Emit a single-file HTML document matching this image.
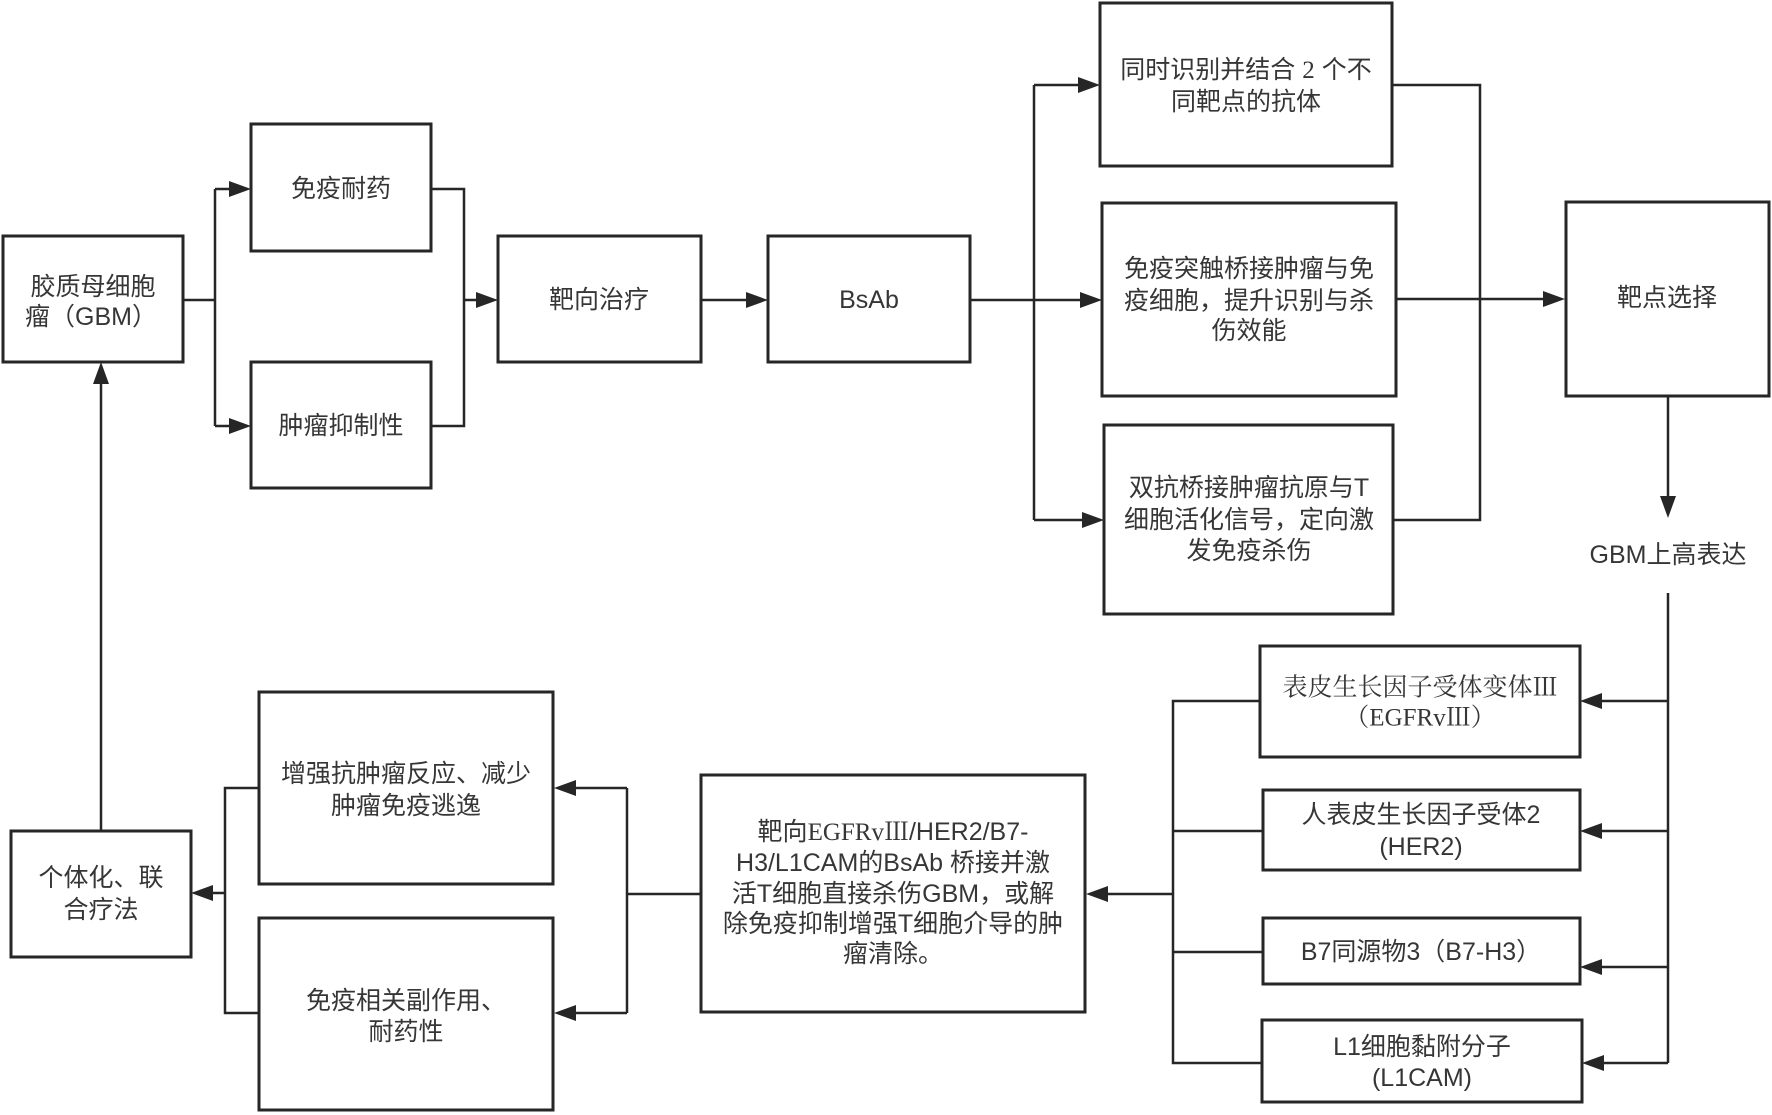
<!DOCTYPE html>
<html><head><meta charset="utf-8"><style>
html,body{margin:0;padding:0;background:#fff;}
svg{display:block;}
text{font-family:"Liberation Sans","Noto Sans CJK SC",sans-serif;font-size:25px;fill:#363636;text-anchor:middle;dominant-baseline:central;}
.serif{font-family:"Liberation Serif","Noto Serif CJK SC",serif;}
</style></head><body>
<svg width="1772" height="1115" viewBox="0 0 1772 1115" xmlns="http://www.w3.org/2000/svg">
<rect width="1772" height="1115" fill="#fff"/>
<g fill="none" stroke="#262626" stroke-width="3">
<rect x="3" y="236" width="180" height="126"/>
<rect x="251" y="124" width="180" height="127"/>
<rect x="251" y="362" width="180" height="126"/>
<rect x="498" y="236" width="203" height="126"/>
<rect x="768" y="236" width="202" height="126"/>
<rect x="1100" y="3" width="292" height="163"/>
<rect x="1102" y="203" width="294" height="193"/>
<rect x="1104" y="425" width="289" height="189"/>
<rect x="1566" y="202" width="203" height="194"/>
<rect x="1260" y="646" width="320" height="111"/>
<rect x="1263" y="790" width="317" height="80"/>
<rect x="1263" y="918" width="317" height="66"/>
<rect x="1262" y="1020" width="320" height="82"/>
<rect x="701" y="775" width="384" height="237"/>
<rect x="259" y="692" width="294" height="192"/>
<rect x="259" y="918" width="294" height="192"/>
<rect x="11" y="831" width="180" height="126"/>
</g>
<g fill="none" stroke="#262626" stroke-width="2.5">
<path d="M183 300 H215 M215 189 V426 M215 189 H232 M215 426 H232"/>
<path d="M431 189 H464 V426 H431 M464 300 H480"/>
<path d="M701 300 H750"/>
<path d="M970 300 H1084 M1034 85 V520 M1034 85 H1082 M1034 520 H1086"/>
<path d="M1392 85 H1480 V520 H1393 M1396 299 H1547"/>
<path d="M1668 396 V500"/>
<path d="M1668 593 V1063 M1668 701 H1598 M1668 831 H1598 M1668 967 H1598 M1668 1063 H1600"/>
<path d="M1260 701 H1173 V1063 H1262 M1263 831 H1173 M1263 952 H1173 M1173 894 H1105"/>
<path d="M701 894 H627 M627 788 V1013 M627 788 H573 M627 1013 H573"/>
<path d="M259 788 H225 V1013 H259 M225 893 H209"/>
<path d="M101 831 V380"/>
</g>
<g fill="#262626">
<polygon points="251,189 229,181 229,197"/>
<polygon points="251,426 229,418 229,434"/>
<polygon points="498,300 476,292 476,308"/>
<polygon points="768,300 746,292 746,308"/>
<polygon points="1100,85 1078,77 1078,93"/>
<polygon points="1102,300 1080,292 1080,308"/>
<polygon points="1104,520 1082,512 1082,528"/>
<polygon points="1565,299 1543,291 1543,307"/>
<polygon points="1668,518 1660,496 1676,496"/>
<polygon points="1580,701 1602,693 1602,709"/>
<polygon points="1580,831 1602,823 1602,839"/>
<polygon points="1580,967 1602,959 1602,975"/>
<polygon points="1582,1063 1604,1055 1604,1071"/>
<polygon points="1086,894 1108,886 1108,902"/>
<polygon points="554,788 576,780 576,796"/>
<polygon points="554,1013 576,1005 576,1021"/>
<polygon points="191,893 213,885 213,901"/>
<polygon points="101,362 93,384 109,384"/>
</g>
<g>
<text x="93" y="287">胶质母细胞</text>
<text x="91" y="317">瘤（GBM）</text>
<text x="341" y="189">免疫耐药</text>
<text x="341" y="426">肿瘤抑制性</text>
<text x="599" y="300">靶向治疗</text>
<text x="869" y="300">BsAb</text>
<text x="1246" y="70">同时识别并结合 <tspan class="serif">2</tspan> 个不</text>
<text x="1246" y="102">同靶点的抗体</text>
<text x="1249" y="269">免疫突触桥接肿瘤与免</text>
<text x="1249" y="301">疫细胞，提升识别与杀</text>
<text x="1249" y="331">伤效能</text>
<text x="1249" y="488">双抗桥接肿瘤抗原与T</text>
<text x="1249" y="520">细胞活化信号，定向激</text>
<text x="1249" y="551">发免疫杀伤</text>
<text x="1667" y="298">靶点选择</text>
<text x="1668" y="555">GBM上高表达</text>
<text x="1420" y="688" class="serif">表皮生长因子受体变体Ⅲ</text>
<text x="1420" y="718" class="serif">（EGFRvⅢ）</text>
<text x="1421" y="815">人表皮生长因子受体2</text>
<text x="1421" y="847">(HER2)</text>
<text x="1421" y="952">B7同源物3（B7-H3）</text>
<text x="1422" y="1047">L1细胞黏附分子</text>
<text x="1422" y="1078">(L1CAM)</text>
<text x="893" y="832">靶向<tspan class="serif">EGFRvⅢ</tspan>/HER2/B7-</text>
<text x="893" y="863">H3/L1CAM的BsAb 桥接并激</text>
<text x="893" y="894">活T细胞直接杀伤GBM，或解</text>
<text x="893" y="924">除免疫抑制增强T细胞介导的肿</text>
<text x="893" y="954">瘤清除。</text>
<text x="406" y="774">增强抗肿瘤反应、减少</text>
<text x="406" y="806">肿瘤免疫逃逸</text>
<text x="406" y="1001">免疫相关副作用、</text>
<text x="406" y="1032">耐药性</text>
<text x="101" y="878">个体化、联</text>
<text x="101" y="910">合疗法</text>
</g>
</svg>
</body></html>
